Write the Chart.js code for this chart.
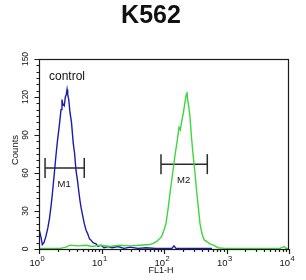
<!DOCTYPE html>
<html><head><meta charset="utf-8">
<script src="https://cdn.jsdelivr.net/npm/chart.js@4.4.0/dist/chart.umd.min.js"></script>
<style>html,body{margin:0;padding:0;background:#fff;}canvas{display:block;}</style>
</head><body>
<canvas id="c" width="306" height="280"></canvas>
<script>
const chartTitle = 'K562';
const xAxisTitle = 'FL1-H';
const yAxisTitle = 'Counts';
const annotationText = 'control';
const yTicks = [0, 30, 60, 90, 120, 150];
const xDecades = [1, 10, 100, 1000, 10000];
const xExponents = ['0', '1', '2', '3', '4'];

// control (blue) histogram: FL1-H value, counts
const controlX = [1.02,1.08,1.13,1.20,1.29,1.39,1.47,1.56,1.64,1.76,1.87,1.98,2.11,2.25,2.33,2.42,2.54,2.64,2.73,2.81,2.88,2.99,3.13,3.31,3.54,3.70,3.91,4.13,4.32,4.53,4.70,5.06,5.31,5.65,6.01,6.43,6.79,7.31,8.17,8.79,9.82,10.96,12.71,14.72,18.36,22.9,28.6,38.4,51.5,74.5,107.6,134,144.5,155.6,260.6,586.1];
const controlY = [14,9,3.5,5,10,17,24,34,44,60,74,86,97,110,118,114,113,120,122,126,122,118,108,100,83,76,62,54,46,38,33,25,20,15,12,8,7,5,4,2,3,1,2,1,2,0.5,1.5,0.5,1,0.4,0.5,0.5,2.5,0.5,0.4,0.4];

// K562 sample (green) histogram
const sampleX = [1.00,2.17,2.70,3.13,4.21,5.65,7.05,9.46,13.7,19.8,28.6,41.3,59.7,66.7,76.4,84.7,91.9,100,107.6,117.2,127,137.7,150,163.2,173.8,182.4,194.1,205.1,216.8,227.5,233.3,240.4,248.4,260.6,275.4,291.1,313.3,333.6,353.8,376.7,398,416,444.6,482,544.5,615,731,946,2377,4966,7178,8318,8954,10000];
const sampleY = [0.5,0.5,1.5,3,2.5,3,2,3,2,3,2.5,3,3.5,4.5,6,8,10,15,20,33,47,60,74,86,96,94,102,108,116,122,124,117,113,104,88,75,60,45,33,20,14,10,7,6,4,3,1,0.5,0.5,0.5,0.5,2,0.5,0.5];

// gates
const markerNames = ['M1', 'M2'];
const markerStart = [1.25, 89.5];
const markerEnd = [5.3, 493];
const markerLevel = [64, 67];

const toPts = (xs, ys) => xs.map((x, i) => ({x: x, y: ys[i]}));

const datasets = [
  {data: toPts(sampleX, sampleY), borderColor: '#3dd63d', borderWidth: 1.4, pointRadius: 0, tension: 0},
  {data: toPts(controlX, controlY), borderColor: '#1c1ca8', borderWidth: 1.4, pointRadius: 0, tension: 0}
];
markerNames.forEach((n, i) => {
  datasets.push({
    data: [{x: markerStart[i], y: markerLevel[i]}, {x: markerEnd[i], y: markerLevel[i]}],
    borderColor: '#2a2a2a', borderWidth: 1.5, pointStyle: 'line', rotation: 90,
    pointRadius: 10, pointBorderColor: '#2a2a2a', pointBorderWidth: 1.5, pointHoverRadius: 10
  });
});

const FONT = '"Liberation Sans", Arial, sans-serif';

const frame = {
  id: 'frame',
  afterDraw(chart) {
    const {ctx, chartArea: a, scales: {x, y}} = chart;
    ctx.save();
    ctx.strokeStyle = '#1a1a1a';
    ctx.lineWidth = 1.2;
    ctx.strokeRect(a.left + 0.5, a.top + 0.5, a.right - a.left - 1, a.bottom - a.top);
    ctx.beginPath();
    for (let v = 0; v <= 150; v += 5) {
      const py = Math.round(y.getPixelForValue(v)) + 0.5;
      const len = (v % 30 === 0) ? 5 : 3;
      ctx.moveTo(a.left + 0.5, py); ctx.lineTo(a.left + 0.5 - len, py);
    }
    xDecades.forEach((d, i) => {
      const px = Math.round(x.getPixelForValue(d)) + 0.5;
      ctx.moveTo(px, a.bottom); ctx.lineTo(px, a.bottom + 5);
      if (i < xDecades.length - 1) {
        for (let k = 2; k <= 9; k++) {
          const pm = Math.round(x.getPixelForValue(d * k)) + 0.5;
          ctx.moveTo(pm, a.bottom); ctx.lineTo(pm, a.bottom + 3);
        }
      }
    });
    ctx.stroke();

    ctx.fillStyle = '#111';
    ctx.font = 'bold 25px ' + FONT;
    ctx.textAlign = 'center'; ctx.textBaseline = 'middle';
    ctx.fillText(chartTitle, 151, 16);

    ctx.font = '8.5px ' + FONT;
    yTicks.forEach(v => {
      const py = y.getPixelForValue(v);
      ctx.save(); ctx.translate(26, py); ctx.rotate(-Math.PI / 2);
      ctx.textAlign = 'center'; ctx.textBaseline = 'middle';
      ctx.fillText(String(v), 0, 0);
      ctx.restore();
    });

    ctx.save(); ctx.translate(15, 150); ctx.rotate(-Math.PI / 2);
    ctx.font = '9.5px ' + FONT;
    ctx.textAlign = 'center'; ctx.textBaseline = 'middle';
    ctx.fillText(yAxisTitle, 0, 0);
    ctx.restore();

    xDecades.forEach((d, i) => {
      const px = x.getPixelForValue(d);
      ctx.font = '9.5px ' + FONT;
      ctx.textAlign = 'right'; ctx.textBaseline = 'alphabetic';
      ctx.fillText('10', px + 1, 266);
      ctx.font = '7.5px ' + FONT;
      ctx.textAlign = 'left';
      ctx.fillText(xExponents[i], px + 1.5, 261);
    });

    ctx.font = '9px ' + FONT;
    ctx.textAlign = 'center'; ctx.textBaseline = 'middle';
    ctx.fillText(xAxisTitle, 161, 271);

    ctx.font = '12px ' + FONT;
    ctx.textAlign = 'left';
    ctx.fillText(annotationText, 49, 77);

    ctx.font = '9.5px ' + FONT;
    ctx.textAlign = 'center';
    markerNames.forEach((n, i) => {
      const mid = Math.sqrt(markerStart[i] * markerEnd[i]);
      const px = x.getPixelForValue(mid) - 0.5;
      const py = y.getPixelForValue(markerLevel[i]) + 16;
      ctx.fillText(n, px, py);
    });
    ctx.restore();
  }
};

new Chart(document.getElementById('c'), {
  type: 'line',
  data: {datasets},
  options: {
    responsive: false,
    devicePixelRatio: 1,
    animation: false,
    layout: {padding: {left: 39, top: 59, right: 17, bottom: 31}},
    plugins: {legend: {display: false}, tooltip: {enabled: false}, title: {display: false}},
    scales: {
      x: {type: 'logarithmic', min: 1, max: 10000, display: false},
      y: {type: 'linear', min: 0, max: 150, display: false}
    }
  },
  plugins: [frame]
});
</script>
</body></html>
